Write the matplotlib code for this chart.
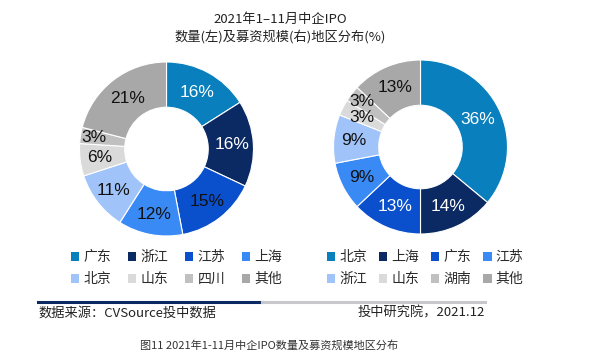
import numpy as np
import matplotlib.pyplot as plt
from matplotlib.patches import Patch
from matplotlib.lines import Line2D

plt.rcParams['font.family'] = ['Noto Sans CJK SC', 'DejaVu Sans']

# data
left_labels = ['广东', '浙江', '江苏', '上海', '北京', '山东', '四川', '其他']
left_values = [16, 16, 15, 12, 11, 6, 3, 21]
right_labels = ['北京', '上海', '广东', '江苏', '浙江', '山东', '湖南', '其他']
right_values = [36, 14, 13, 9, 9, 3, 3, 13]

colors = ['#0A7FBD', '#0B2A63', '#0A50CC', '#3A8AF5', '#A0C4FA',
          '#DADADA', '#C0C0C0', '#A8A8A8']
dark = '#111111'
left_txt = ['white', 'white', dark, dark, dark, dark, dark, dark]
right_txt = ['white', 'white', 'white', dark, dark, dark, dark, dark]
# label radial distance (small slices pushed outward)
left_dist = [0.74, 0.75, 0.77, 0.77, 0.77, 0.77, 0.84, 0.73]
right_dist = [0.73, 0.75, 0.75, 0.76, 0.77, 0.75, 0.85, 0.75]

W, H = 591, 359
fig = plt.figure(figsize=(W / 100, H / 100), dpi=100)


def donut(cx, cy, r, values, tcolors, dists):
    ax = fig.add_axes([(cx - r) / W, (H - cy - r) / H, 2 * r / W, 2 * r / H])
    ax.pie(values, colors=colors, startangle=90, counterclock=False, radius=1,
           wedgeprops=dict(width=0.52, edgecolor='white', linewidth=0.8))
    total = sum(values)
    ang = 90.0
    for v, tc, d in zip(values, tcolors, dists):
        mid = np.deg2rad(ang - v / total * 180)
        ang -= v / total * 360
        ax.text(d * np.cos(mid), d * np.sin(mid), f'{v}%', ha='center', va='center',
                fontsize=12.5, color=tc, family=['Liberation Sans', 'DejaVu Sans'])
    ax.set_xlim(-1, 1)
    ax.set_ylim(-1, 1)
    ax.axis('off')
    return ax


donut(166.5, 149, 87, left_values, left_txt, left_dist)
donut(420.5, 147, 87, right_values, right_txt, right_dist)


def legend(x0, labels, colspacing):
    # legend fills column by column; reorder so it reads row by row
    order = [0, 4, 1, 5, 2, 6, 3, 7]
    handles = [Patch(facecolor=colors[i], edgecolor='none') for i in order]
    texts = [labels[i] for i in order]
    leg = fig.legend(handles, texts, ncol=4, loc='upper left',
                     bbox_to_anchor=(x0 / W, 1 - 250 / H), frameon=False,
                     borderpad=0, borderaxespad=0,
                     fontsize=10, handlelength=0.6, handleheight=0.6,
                     handletextpad=0.3, columnspacing=colspacing, labelspacing=0.6,
                     labelcolor='#2a2a2a')
    return leg


legend(71, left_labels, 1.2)
legend(327, right_labels, 0.85)

# source line
y_line = 1 - 302 / H
fig.add_artist(Line2D([38 / W, 262 / W], [y_line, y_line], color='#0B2A63', lw=2.2))
fig.add_artist(Line2D([262 / W, 485 / W], [y_line, y_line], color='#C8C8CC', lw=2.2))
fig.text(38 / W, 1 - 313 / H, '数据来源：CVSource投中数据', ha='left', va='center',
         fontsize=9.5, color='#222222')
fig.text(485 / W, 1 - 313 / H, '投中研究院，2021.12', ha='right', va='center',
         fontsize=9.5, color='#222222')

# titles
fig.text(280 / W, 1 - 19 / H, '2021年1–11月中企IPO', ha='center', va='center',
         fontsize=9.5, color='#222222')
fig.text(280 / W, 1 - 37 / H, '数量(左)及募资规模(右)地区分布(%)', ha='center', va='center',
         fontsize=9.5, color='#222222')
fig.text(269 / W, 1 - 345 / H, '图11 2021年1-11月中企IPO数量及募资规模地区分布', ha='center',
         va='center', fontsize=8, color='#333333')

fig.savefig('out.png', dpi=100)
